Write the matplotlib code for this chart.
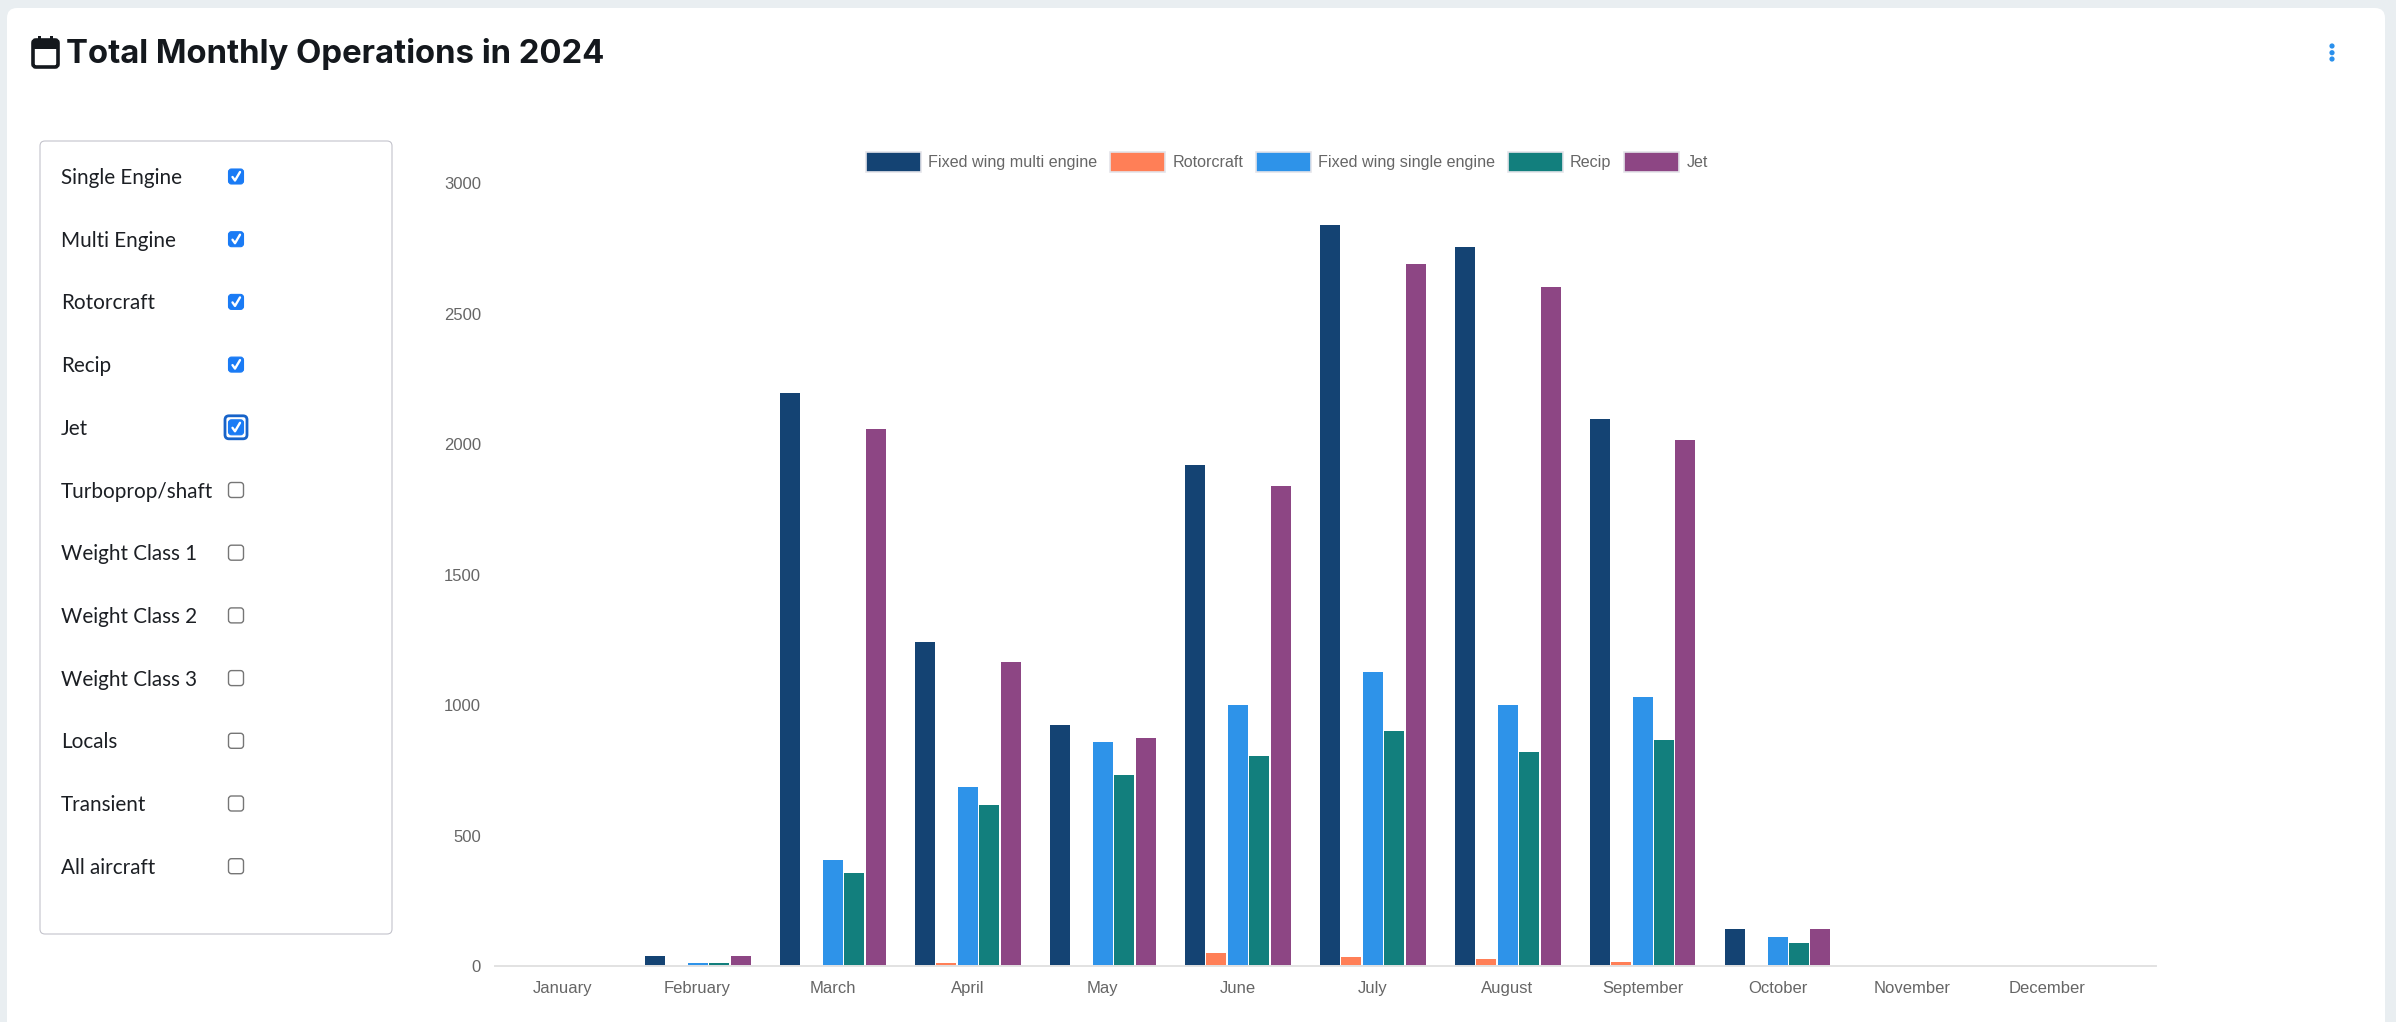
import numpy as np
import matplotlib
matplotlib.use("Agg")
import matplotlib.pyplot as plt
from matplotlib.patches import FancyBboxPatch, Patch, Circle, Rectangle

# Chart data
months = ["January", "February", "March", "April", "May", "June", "July",
          "August", "September", "October", "November", "December"]
multi_engine = [0, 38, 2197, 1240, 925, 1920, 2840, 2755, 2097, 140, 0, 0]
rotorcraft = [0, 0, 0, 12, 0, 48, 33, 28, 16, 0, 0, 0]
single_engine = [0, 12, 405, 687, 860, 1000, 1125, 1000, 1030, 110, 0, 0]
recip = [0, 12, 355, 615, 732, 806, 902, 820, 867, 90, 0, 0]
jet = [0, 38, 2056, 1166, 872, 1840, 2690, 2600, 2015, 140, 0, 0]
y_ticks = [0, 500, 1000, 1500, 2000, 2500, 3000]

# Side panel
filters = ["Single Engine", "Multi Engine", "Rotorcraft", "Recip", "Jet",
           "Turboprop/shaft", "Weight Class 1", "Weight Class 2", "Weight Class 3",
           "Locals", "Transient", "All aircraft"]
checked = [True, True, True, True, True, False, False, False, False, False, False, False]
focused = "Jet"

series = [("Fixed wing multi engine", multi_engine, "#144373"),
          ("Rotorcraft", rotorcraft, "#ff7f57"),
          ("Fixed wing single engine", single_engine, "#2e93e9"),
          ("Recip", recip, "#127f7d"),
          ("Jet", jet, "#8d4684")]

W, H = 2396, 1022
fig = plt.figure(figsize=(W / 100, H / 100), dpi=100, facecolor="#e9eef1")

# Background layer in pixel coordinates
bg = fig.add_axes([0, 0, 1, 1], zorder=0)
bg.set_xlim(0, W)
bg.set_ylim(H, 0)
bg.axis("off")


def rounded(x0, y0, x1, y1, r, **kw):
    p = FancyBboxPatch((x0 + r, y0 + r), x1 - x0 - 2 * r, y1 - y0 - 2 * r,
                       boxstyle="round,pad=%f,rounding_size=%f" % (r, r), **kw)
    bg.add_patch(p)


rounded(7, 8, 2385, 1040, 10, fc="white", ec="none")

# Calendar icon
rounded(33, 40, 58, 67, 3, fc="white", ec="#14181d", lw=2.6)
bg.add_patch(Rectangle((32, 40), 27, 9, fc="#14181d", ec="none"))
bg.add_patch(Rectangle((38, 36), 3, 6, fc="#14181d", ec="none"))
bg.add_patch(Rectangle((50, 36), 3, 6, fc="#14181d", ec="none"))

bg.text(66, 54.5, "Total Monthly Operations in 2024", fontsize=23.7, fontweight="bold",
        family="Inter", color="#14181d", va="center", ha="left")

# Kebab menu
for yy in [46, 52.7, 59]:
    bg.add_patch(Circle((2332, yy), 2.6, fc="#2a90ec", ec="none"))

# Filter panel
rounded(40, 141, 392, 934, 5, fc="white", ec="#c3c3cc", lw=0.8)
for i, (name, on) in enumerate(zip(filters, checked)):
    yy = 176.5 + 62.7 * i
    bg.text(61, yy + 1.5, name, fontsize=14.9, family="Lato", color="#1c1f24",
            va="center", ha="left")
    cx = 236
    if name == focused:
        rounded(cx - 11, yy - 11.5, cx + 11, yy + 11.5, 4, fc="white", ec="#1763c9", lw=2)
    if on:
        rounded(cx - 7.5, yy - 7.5, cx + 7.5, yy + 7.5, 3, fc="#1a7bf5", ec="#1a7bf5", lw=0.8)
        bg.plot([cx - 3.5, cx - 1, cx + 4], [yy + 0.5, yy + 4, yy - 4.5], color="white", lw=1.7,
                solid_capstyle="round")
    else:
        rounded(cx - 7.5, yy - 7.5, cx + 7.5, yy + 7.5, 3, fc="white", ec="#767676", lw=1.0)

# Bar chart
ax = fig.add_axes([495 / W, (H - 966) / H, (2156 - 495) / W, (966 - 183) / H], zorder=1)
ax.patch.set_alpha(0)
x = np.arange(len(months))
cat_px = 135.0
slot = 21.5 / cat_px
handles = []
for i, (label, values, color) in enumerate(series):
    ax.bar(x + (i - 2) * slot, values, width=20 / cat_px, color=color, linewidth=0)
    handles.append(Patch(facecolor=color, edgecolor="#e4e4ea", linewidth=1.2, label=label))

# the axis line runs on a bit past December
ax.set_xlim(-0.5, -0.5 + (2156 - 495) / cat_px)
ax.set_ylim(0, 3000)
ax.set_xticks(x)
ax.set_xticklabels(months)
ax.set_yticks(y_ticks)
for side in ["top", "right", "left"]:
    ax.spines[side].set_visible(False)
ax.spines["bottom"].set_color("#e2e2e2")
ax.spines["bottom"].set_linewidth(1.4)
ax.tick_params(axis="both", length=0, labelsize=12, labelcolor="#666666", labelfontfamily="Liberation Sans")
ax.tick_params(axis="x", pad=10.5)
ax.tick_params(axis="y", pad=10)

leg = ax.legend(handles=handles, loc="center", ncol=5,
                bbox_to_anchor=(1287 / W, (H - 162) / H), bbox_transform=fig.transFigure,
                frameon=False, prop={"family": "Liberation Sans", "size": 11.6},
                handlelength=3.4, handleheight=1.5, handletextpad=0.45,
                columnspacing=0.8, borderpad=0, labelcolor="#666666")

fig.savefig("out.png", dpi=100, facecolor=fig.get_facecolor())
